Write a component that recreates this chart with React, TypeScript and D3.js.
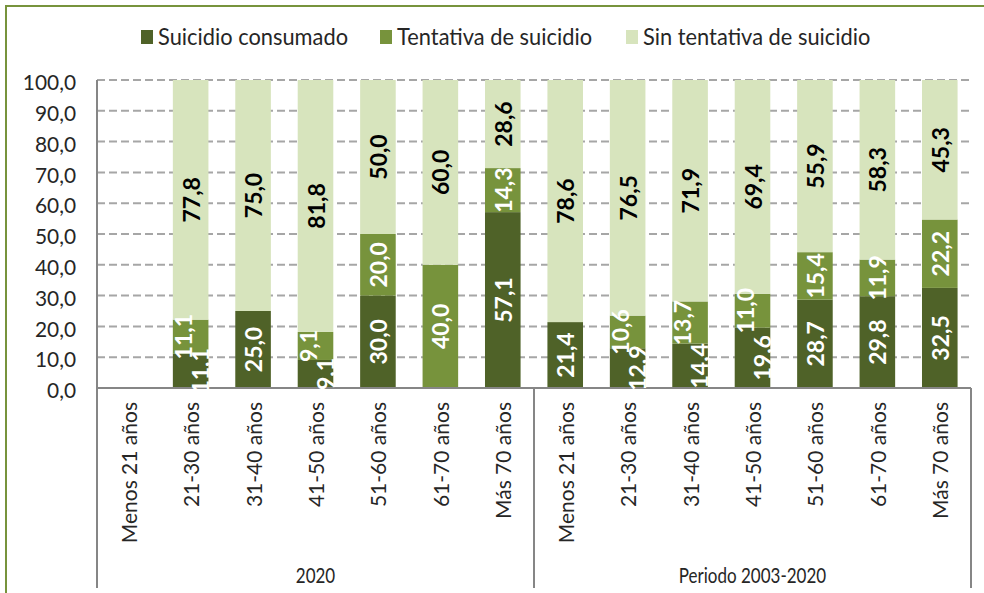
import React from "react";
import * as d3 from "d3";

const groups = ["2020", "Periodo 2003-2020"];
const ageLabels = ["Menos 21 años", "21-30 años", "31-40 años", "41-50 años", "51-60 años", "61-70 años", "Más 70 años"];
const seriesNames = ["Suicidio consumado", "Tentativa de suicidio", "Sin tentativa de suicidio"];
const seriesColors = ["#4F6228", "#77933C", "#D7E4BD"];
const labelColors = ["#FFFFFF", "#FFFFFF", "#000000"];

const consumado2020 = [0, 11.1, 25.0, 9.1, 30.0, 0, 57.1];
const tentativa2020 = [0, 11.1, 0, 9.1, 20.0, 40.0, 14.3];
const sinTentativa2020 = [0, 77.8, 75.0, 81.8, 50.0, 60.0, 28.6];

const consumadoPeriodo = [21.4, 12.9, 14.4, 19.6, 28.7, 29.8, 32.5];
const tentativaPeriodo = [0, 10.6, 13.7, 11.0, 15.4, 11.9, 22.2];
const sinTentativaPeriodo = [78.6, 76.5, 71.9, 69.4, 55.9, 58.3, 45.3];

const yTicks = [0, 10, 20, 30, 40, 50, 60, 70, 80, 90, 100];

type Row = { key: string; group: string; age: string; s0: number; s1: number; s2: number };

const rows: Row[] = [
  ...ageLabels.map((age, i) => ({ key: `${groups[0]}|${age}`, group: groups[0], age, s0: consumado2020[i], s1: tentativa2020[i], s2: sinTentativa2020[i] })),
  ...ageLabels.map((age, i) => ({ key: `${groups[1]}|${age}`, group: groups[1], age, s0: consumadoPeriodo[i], s1: tentativaPeriodo[i], s2: sinTentativaPeriodo[i] })),
];

const W = 984;
const H = 593;
const M = { left: 97, right: 971, top: 80, bottom: 388 };
const AXIS_BOTTOM = 588;

const FONT = "Lato, 'Open Sans', sans-serif";
const TEXT = "#262626";

const fmt = (v: number) => v.toFixed(1).replace(".", ",");

// approximate rendered length of a bold data label (for overlap handling)
const labelLen = (s: string) => s.replace(/[^0-9]/g, "").length * 13.3 + 5.5;

export default function App() {
  const x = d3.scaleBand<string>().domain(rows.map((r) => r.key)).range([M.left, M.right]).paddingInner(0.43).paddingOuter(0.215);
  const y = d3.scaleLinear().domain([0, 100]).range([M.bottom, M.top]);
  const stack = d3.stack<Row>().keys(["s0", "s1", "s2"]);
  const stacked = stack(rows);

  const groupRanges = groups.map((g) => {
    const keys = rows.filter((r) => r.group === g).map((r) => r.key);
    const start = (x(keys[0]) as number) - (x.step() * x.paddingInner()) / 2;
    const end = (x(keys[keys.length - 1]) as number) + x.bandwidth() + (x.step() * x.paddingInner()) / 2;
    return { g, start, end };
  });

  // data labels with simple overlap avoidance (consumado vs tentativa)
  const labels: { key: string; cx: number; cy: number; text: string; color: string }[] = [];
  rows.forEach((r, ri) => {
    const bx = (x(r.key) as number) + x.bandwidth() / 2;
    const segs = stacked.map((layer, si) => {
      const d = layer[ri];
      const v = d[1] - d[0];
      const text = fmt(v);
      const cy = y((d[0] + d[1]) / 2);
      return { si, v, text, cy, len: labelLen(text), dx: 0 };
    });
    const a = segs[0];
    const b = segs[1];
    if (a.v > 0 && b.v > 0) {
      const gap = (a.cy - a.len / 2) - (b.cy + b.len / 2);
      if (gap < 6) {
        b.dx = -8;
        a.dx = 9;
      }
    }
    segs.filter((s) => s.v > 0).forEach((s) => {
      labels.push({ key: `${s.si}-${r.key}`, cx: bx + s.dx, cy: s.cy, text: s.text, color: labelColors[s.si] });
    });
  });

  const legendX = [141, 380, 626];

  return (
    <svg width={W} height={H} style={{ position: "absolute", left: 0, top: 0, background: "#fff" }}>
      <defs>
        <clipPath id="plotClip">
          <rect x={M.left} y={M.top - 10} width={M.right - M.left} height={M.bottom - M.top + 14} />
        </clipPath>
      </defs>
      <rect x={6} y={6} width={W + 10} height={H + 10} fill="#fff" stroke="#77933C" strokeWidth={2} />

      {/* legend */}
      {seriesNames.map((name, i) => (
        <g key={name}>
          <rect x={legendX[i]} y={30} width={12} height={14} fill={seriesColors[i]} />
          <text transform={`translate(${legendX[i] + 17},45) scale(0.95,1)`} fontFamily={FONT} fontSize={23} fill={TEXT}>
            {name}
          </text>
        </g>
      ))}

      {/* gridlines */}
      {yTicks.filter((t) => t > 0).map((t) => (
        <line key={t} x1={M.left} x2={M.right} y1={y(t)} y2={y(t)} stroke="#A6A6A6" strokeWidth={2} strokeDasharray="8,4" />
      ))}

      {/* y tick labels */}
      {yTicks.map((t) => (
        <text key={t} transform={`translate(76,${y(t) + 2}) scale(0.95,1)`} textAnchor="end" dominantBaseline="central" fontFamily={FONT} fontSize={22} fill={TEXT}>
          {fmt(t)}
        </text>
      ))}

      {/* bars */}
      {stacked.map((layer, si) =>
        layer.map((d) => (
          <rect
            key={`${si}-${d.data.key}`}
            x={x(d.data.key)}
            y={y(d[1])}
            width={x.bandwidth()}
            height={Math.max(0, y(d[0]) - y(d[1]))}
            fill={seriesColors[si]}
          />
        ))
      )}

      {/* axes */}
      <line x1={M.left} x2={M.right} y1={M.bottom} y2={M.bottom} stroke="#868686" strokeWidth={2} />
      <line x1={M.left} x2={M.left} y1={M.top} y2={AXIS_BOTTOM} stroke="#868686" strokeWidth={2} />
      {groupRanges.map((gr) => (
        <line key={gr.g} x1={gr.end} x2={gr.end} y1={M.bottom} y2={AXIS_BOTTOM} stroke="#868686" strokeWidth={2} />
      ))}

      {/* data labels */}
      <g clipPath="url(#plotClip)">
        {labels.map((l) => (
          <text
            key={`l-${l.key}`}
            transform={`translate(${l.cx},${l.cy}) rotate(-90)`}
            textAnchor="middle"
            dominantBaseline="central"
            fontFamily={FONT}
            fontWeight={700}
            fontSize={23}
            fill={l.color}
          >
            {l.text}
          </text>
        ))}
      </g>

      {/* x category labels */}
      {rows.map((r) => {
        const cx = (x(r.key) as number) + x.bandwidth() / 2;
        return (
          <text
            key={`x-${r.key}`}
            transform={`translate(${cx},402) rotate(-90)`}
            textAnchor="end"
            dominantBaseline="central"
            fontFamily={FONT}
            fontSize={21}
            fill={TEXT}
          >
            {r.age}
          </text>
        );
      })}

      {/* group labels */}
      {groupRanges.map((gr) => (
        <text key={`g-${gr.g}`} transform={`translate(${(gr.start + gr.end) / 2},583) scale(0.81,1)`} textAnchor="middle" fontFamily={FONT} fontSize={21} fill={TEXT}>
          {gr.g}
        </text>
      ))}
    </svg>
  );
}
